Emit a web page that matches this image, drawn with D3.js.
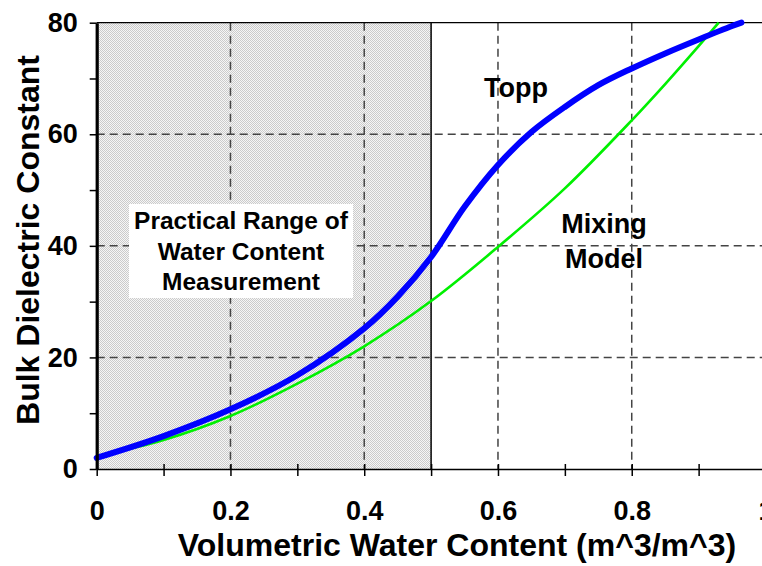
<!doctype html>
<html>
  <head>
    <meta charset="utf-8">
    <script src="https://cdn.jsdelivr.net/npm/d3@7"></script>
    <style>
      body { margin: 0; background: white; }
      svg { display: block; font-family: "Liberation Sans", Arial, sans-serif; font-weight: bold; }
      .tick text { font-size: 27px; font-weight: bold; fill: black; }
    </style>
  </head>
  <body>
    <svg id="chart" width="762" height="566"></svg>
    <script>
      // values
      const toppTheta = [0, 0.1, 0.2, 0.3, 0.4, 0.45, 0.5, 0.55, 0.6, 0.65, 0.7, 0.75, 0.8, 0.85, 0.9, 0.95, 0.964]
      const toppEps   = [2.0, 5.9, 10.7, 16.8, 25.2, 30.9, 38.0, 47.0, 54.5, 60.4, 64.9, 68.8, 71.8, 74.5, 77.0, 79.4, 80]

      const mixTheta = [0, 0.1, 0.2, 0.3, 0.4, 0.5, 0.6, 0.7, 0.8, 0.85, 0.9, 0.93]
      const mixEps   = [2.3, 5.2, 9.5, 15.3, 22.0, 30.1, 39.8, 50.3, 62.5, 69.0, 75.8, 80]

      const xTicks = [0, 0.1, 0.2, 0.3, 0.4, 0.5, 0.6, 0.7, 0.8, 0.9, 1]
      const xLabels = ["0", "", "0.2", "", "0.4", "", "0.6", "", "0.8", "", "1"]
      const yTicks = [0, 10, 20, 30, 40, 50, 60, 70, 80]
      const yLabels = ["0", "", "20", "", "40", "", "60", "", "80"]
      const xGrid = [0.2, 0.4, 0.6, 0.8]
      const yGrid = [20, 40, 60]
      const practicalMax = 0.5
      const boxLines = ["Practical Range of", "Water Content", "Measurement"]

      const svg = d3.select("#chart")

      const x = d3.scaleLinear().domain([0, 1]).range([96.7, 765.5])
      const y = d3.scaleLinear().domain([0, 80]).range([469, 22.7])

      // stipple pattern for the shaded range
      const pat = svg.append("defs").append("pattern")
          .attr("id", "stipple")
          .attr("width", 2).attr("height", 2)
          .attr("patternUnits", "userSpaceOnUse")
      pat.append("rect").attr("width", 2).attr("height", 2).attr("fill", "#f6f6f6")
      pat.append("rect").attr("width", 1).attr("height", 1).attr("fill", "#cbcbcb")
      pat.append("rect").attr("x", 1).attr("y", 1).attr("width", 1).attr("height", 1).attr("fill", "#cbcbcb")

      svg.append("rect")
          .attr("x", x(0)).attr("y", y(80))
          .attr("width", x(practicalMax) - x(0))
          .attr("height", y(0) - y(80))
          .attr("fill", "url(#stipple)")

      // grid
      svg.selectAll(".vgrid")
        .data(xGrid)
        .enter().append("line")
          .attr("class", "vgrid")
          .attr("x1", d => x(d)).attr("x2", d => x(d))
          .attr("y1", y(80)).attr("y2", y(0))
          .attr("stroke", "#444").attr("stroke-width", 1.5)
          .attr("stroke-dasharray", "8,5")

      svg.selectAll(".hgrid")
        .data(yGrid)
        .enter().append("line")
          .attr("class", "hgrid")
          .attr("x1", x(0)).attr("x2", 762)
          .attr("y1", d => y(d)).attr("y2", d => y(d))
          .attr("stroke", "#444").attr("stroke-width", 1.5)
          .attr("stroke-dasharray", "8,5")

      // text box
      svg.append("rect")
          .attr("x", 129).attr("y", 204)
          .attr("width", 224).attr("height", 94)
          .attr("fill", "white")

      svg.append("g").selectAll("text")
        .data(boxLines)
        .enter().append("text")
          .attr("x", 241)
          .attr("y", (d, i) => 229 + i * 30.7)
          .attr("text-anchor", "middle")
          .attr("font-size", 24.5)
          .text(d => d)

      // edge of practical range
      svg.append("line")
          .attr("x1", x(practicalMax)).attr("x2", x(practicalMax))
          .attr("y1", y(80)).attr("y2", y(0))
          .attr("stroke", "black").attr("stroke-width", 1.5)

      // top frame
      svg.append("line")
          .attr("x1", x(0)).attr("x2", 762)
          .attr("y1", y(80)).attr("y2", y(80))
          .attr("stroke", "black").attr("stroke-width", 1.2)

      // curves
      const line = d3.line()
          .x(d => x(d[0]))
          .y(d => y(d[1]))
          .curve(d3.curveCatmullRom)

      svg.append("path")
          .datum(mixTheta.map((t, i) => [t, mixEps[i]]))
          .attr("d", line)
          .attr("fill", "none")
          .attr("stroke", "#00f000")
          .attr("stroke-width", 2.6)

      svg.append("path")
          .datum(toppTheta.map((t, i) => [t, toppEps[i]]))
          .attr("d", line)
          .attr("fill", "none")
          .attr("stroke", "#0000ff")
          .attr("stroke-width", 6)
          .attr("stroke-linecap", "round")

      // axes
      const yAxis = d3.axisLeft(y)
          .tickValues(yTicks)
          .tickSizeInner(7).tickSizeOuter(0)
          .tickPadding(12)
          .tickFormat((d, i) => yLabels[i])

      const gy = svg.append("g")
          .attr("transform", "translate(" + x(0) + ",0)")
          .call(yAxis)
      gy.select(".domain").attr("stroke", "black").attr("stroke-width", 3.2)
      gy.selectAll(".tick line").attr("stroke", "black").attr("stroke-width", 1.5)

      const xAxis = d3.axisBottom(x)
          .tickValues(xTicks)
          .tickSizeOuter(0)
          .tickFormat((d, i) => xLabels[i])

      const gx = svg.append("g")
          .attr("transform", "translate(0," + y(0) + ")")
          .call(xAxis)
      gx.select(".domain").attr("stroke", "black").attr("stroke-width", 1.5)
      gx.selectAll(".tick line")
          .attr("y1", -5).attr("y2", 7)
          .attr("stroke", "black").attr("stroke-width", 1.5)
      gx.selectAll(".tick text").attr("y", 51).attr("dy", 0)

      // titles
      svg.append("text")
          .attr("x", 457).attr("y", 556)
          .attr("text-anchor", "middle")
          .attr("font-size", 32)
          .text("Volumetric Water Content (m^3/m^3)")

      svg.append("text")
          .attr("transform", "translate(39,240) rotate(-90)")
          .attr("text-anchor", "middle")
          .attr("font-size", 32)
          .text("Bulk Dielectric Constant")

      // series labels
      svg.append("text")
          .attr("x", 516).attr("y", 97)
          .attr("text-anchor", "middle")
          .attr("font-size", 27)
          .text("Topp")

      svg.append("g").selectAll("text")
        .data(["Mixing", "Model"])
        .enter().append("text")
          .attr("x", 604)
          .attr("y", (d, i) => 233 + i * 35)
          .attr("text-anchor", "middle")
          .attr("font-size", 27)
          .text(d => d)
    </script>
  </body>
</html>
